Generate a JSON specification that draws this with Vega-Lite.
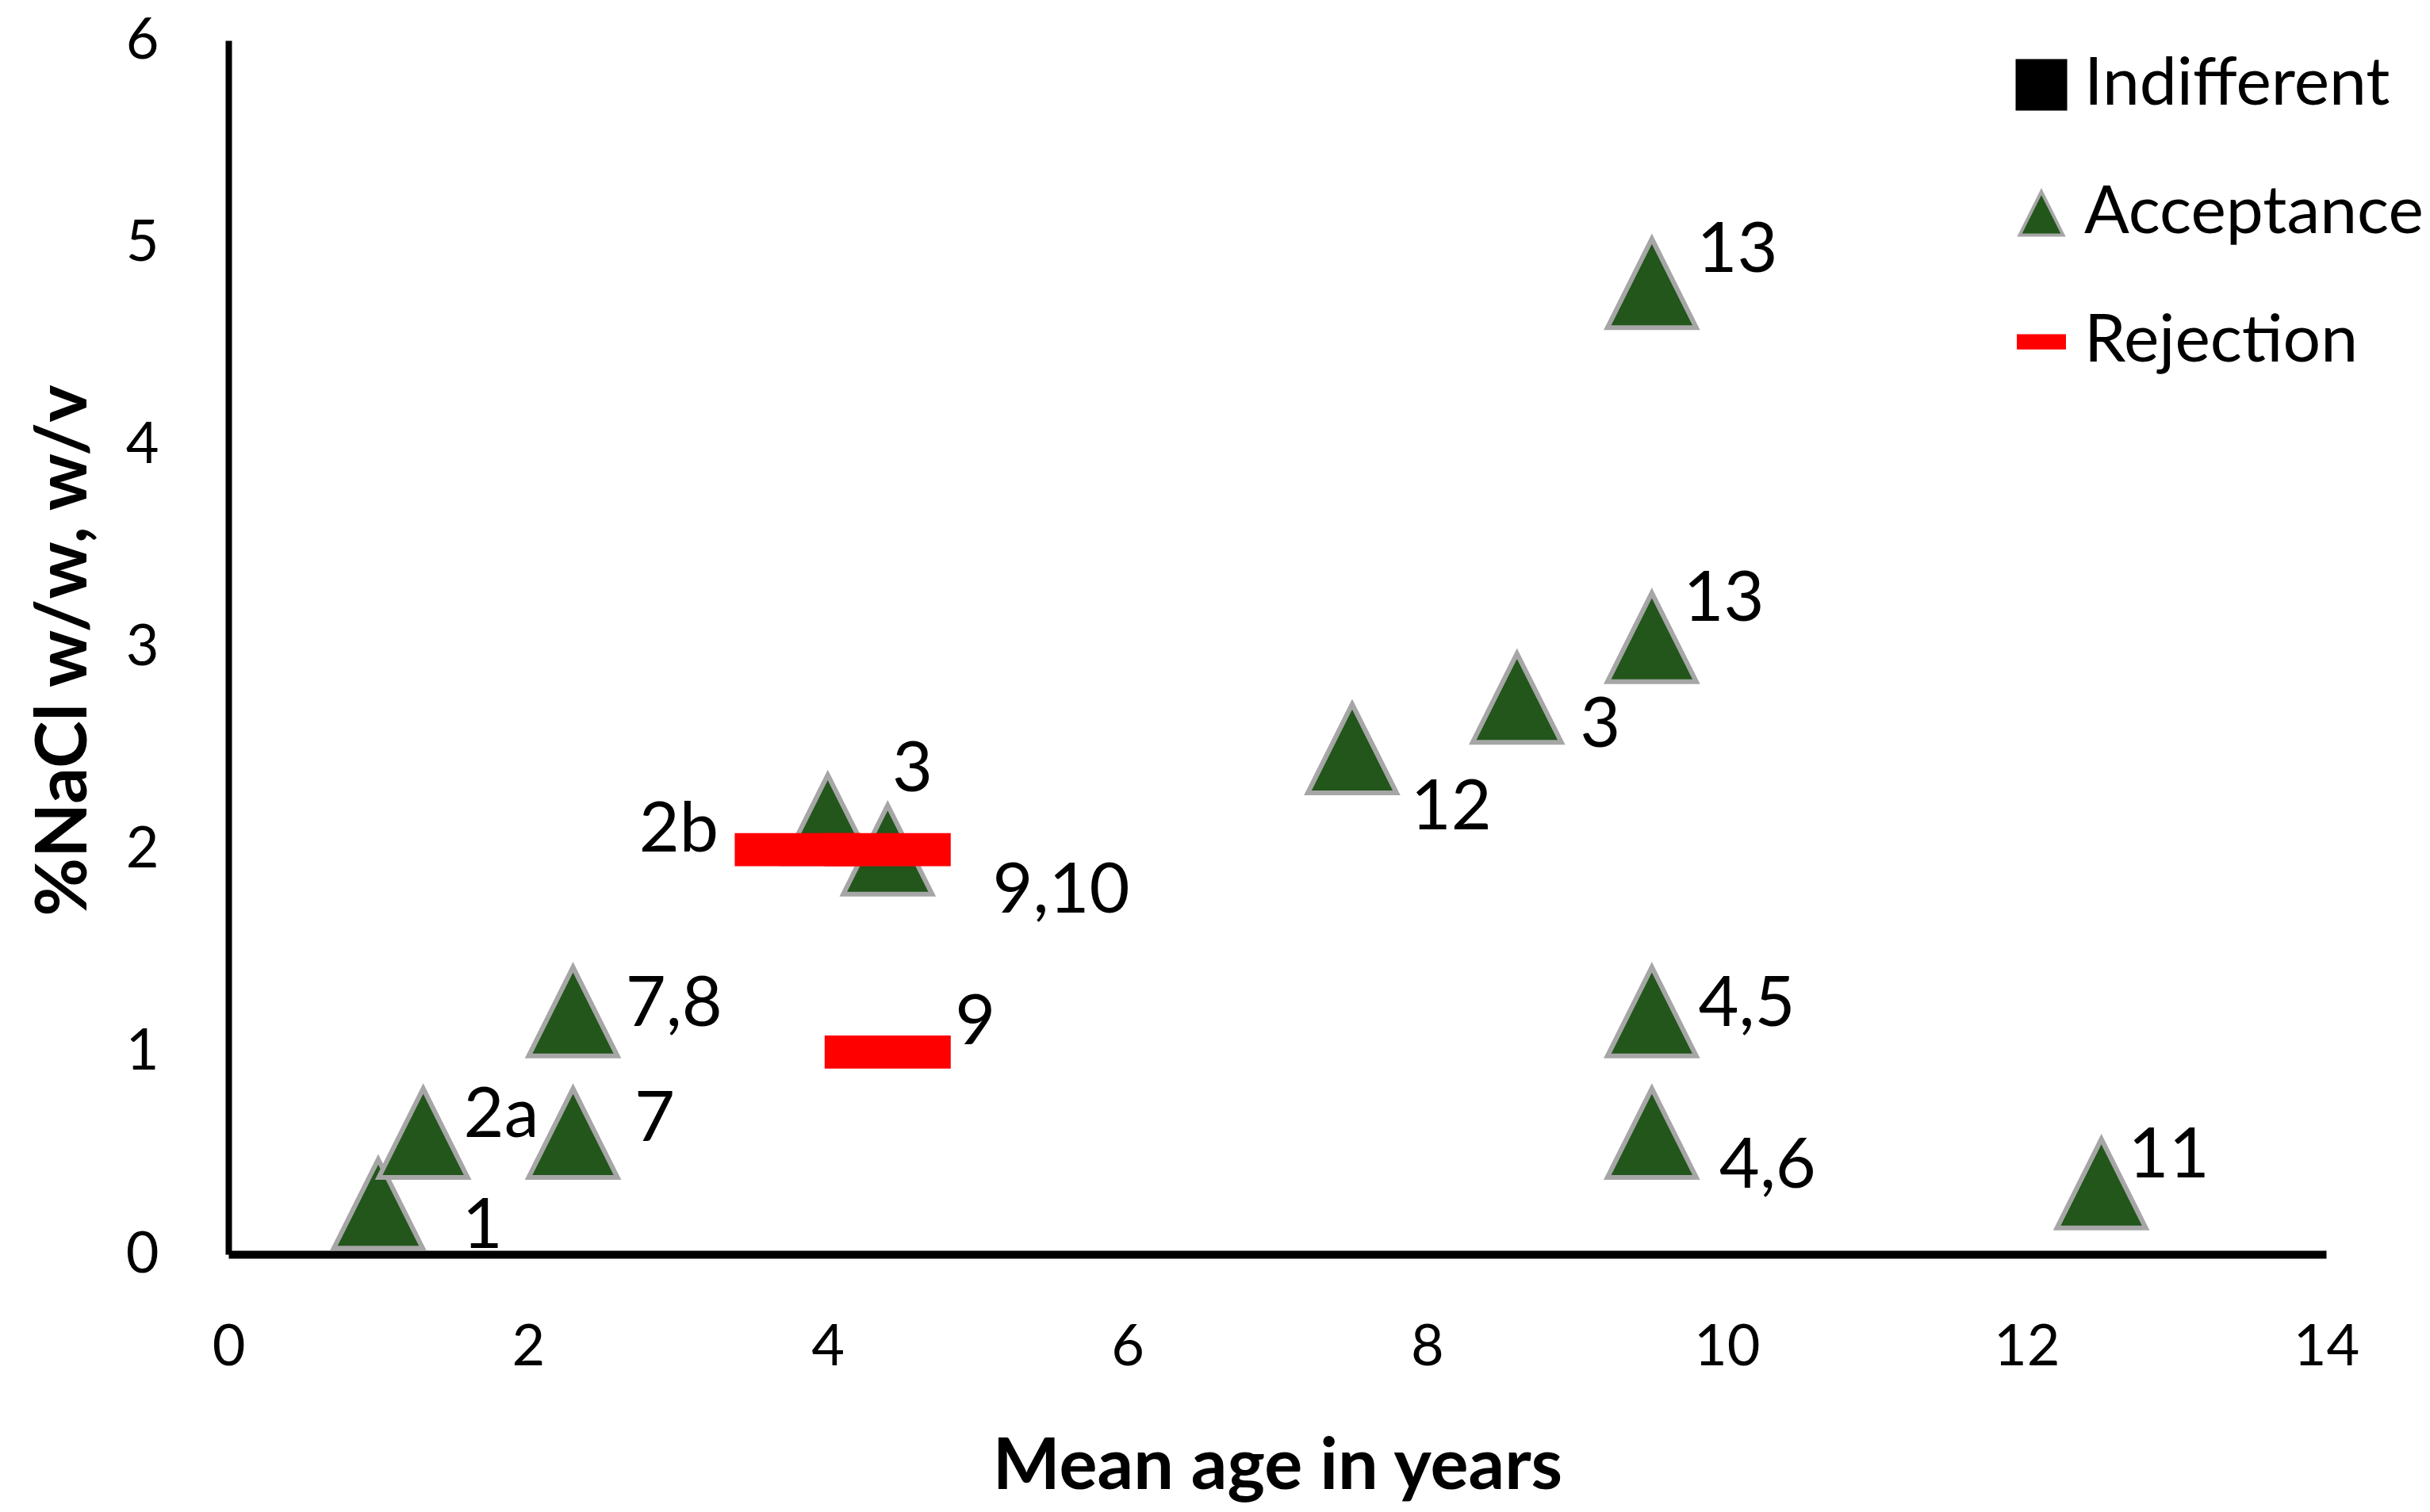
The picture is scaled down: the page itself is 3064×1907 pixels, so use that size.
{
  "$schema": "https://vega.github.io/schema/vega-lite/v6.json",
  "autosize": "none",
  "width": 2645,
  "height": 1531,
  "padding": {"left": 288, "top": 51, "right": 131, "bottom": 325},
  "background": "white",
  "config": {
    "view": {"stroke": null},
    "font": "Lato",
    "axis": {
      "grid": false,
      "ticks": false,
      "tickSize": 0,
      "format": "d",
      "labelFlush": false,
      "domainColor": "black",
      "labelColor": "black",
      "labelFont": "Lato",
      "labelFontSize": 72,
      "titleFont": "Lato",
      "titleFontSize": 90,
      "titleFontWeight": "bold",
      "titleColor": "black"
    }
  },
  "data": {
    "values": [
      {"age": 1.0, "nacl": 0.25, "response": "Acceptance", "label": "1", "lx": 1.56, "ly": 0.03},
      {"age": 1.3, "nacl": 0.6, "response": "Acceptance", "label": "2a", "lx": 1.57, "ly": 0.58},
      {"age": 2.3, "nacl": 0.6, "response": "Acceptance", "label": "7", "lx": 2.71, "ly": 0.56},
      {"age": 2.3, "nacl": 1.2, "response": "Acceptance", "label": "7,8", "lx": 2.65, "ly": 1.13},
      {"age": 4.0, "nacl": 2.15, "response": "Acceptance", "label": "3", "lx": 4.43, "ly": 2.29},
      {"age": 4.4, "nacl": 2.0, "response": "Acceptance", "label": "9,10", "lx": 5.1, "ly": 1.69},
      {"age": 7.5, "nacl": 2.5, "response": "Acceptance", "label": "12", "lx": 7.89, "ly": 2.1},
      {"age": 8.6, "nacl": 2.75, "response": "Acceptance", "label": "3", "lx": 9.02, "ly": 2.51},
      {"age": 9.5, "nacl": 3.05, "response": "Acceptance", "label": "13", "lx": 9.71, "ly": 3.13},
      {"age": 9.5, "nacl": 4.8, "response": "Acceptance", "label": "13", "lx": 9.8, "ly": 4.855},
      {"age": 9.5, "nacl": 1.2, "response": "Acceptance", "label": "4,5", "lx": 9.81, "ly": 1.13},
      {"age": 9.5, "nacl": 0.6, "response": "Acceptance", "label": "4,6", "lx": 9.95, "ly": 0.33},
      {"age": 12.5, "nacl": 0.35, "response": "Acceptance", "label": "11", "lx": 12.68, "ly": 0.38},
      {"age": 3.8, "nacl": 2.0, "response": "Rejection", "label": "2b", "lx": 2.74, "ly": 1.99},
      {"age": 4.4, "nacl": 2.0, "response": "Rejection", "label": null, "lx": null, "ly": null},
      {"age": 4.4, "nacl": 1.0, "response": "Rejection", "label": "9", "lx": 4.85, "ly": 1.04}
    ]
  },
  "layer": [
    {
      "transform": [{"filter": "datum.response === 'Acceptance'"}],
      "mark": {"type": "point", "filled": true, "opacity": 1, "size": 15480, "strokeWidth": 6},
      "encoding": {
        "x": {
          "field": "age",
          "type": "quantitative",
          "scale": {"domain": [0, 14], "nice": false},
          "axis": {
            "values": [0, 2, 4, 6, 8, 10, 12, 14],
            "domainWidth": 10,
            "labelBaseline": "alphabetic",
            "labelPadding": 139,
            "title": "Mean age in years",
            "titleBaseline": "alphabetic",
            "titleY": 295
          }
        },
        "y": {
          "field": "nacl",
          "type": "quantitative",
          "scale": {"domain": [0, 6], "nice": false},
          "axis": {
            "values": [0, 1, 2, 3, 4, 5, 6],
            "domainWidth": 8,
            "labelPadding": 88,
            "title": "%NaCl w/w, w/v",
            "titleAngle": 270,
            "titleBaseline": "alphabetic",
            "titleX": -180,
            "titleY": 769
          }
        },
        "fill": {
          "field": "response",
          "type": "nominal",
          "scale": {"domain": ["Indifferent", "Acceptance", "Rejection"], "range": ["#000000", "#22561B", "#FF0000"]},
          "legend": {
            "title": null,
            "orient": "none",
            "legendX": 2244,
            "legendY": 14,
            "padding": 0,
            "symbolSize": 3721,
            "symbolStrokeWidth": 4,
            "labelFont": "Lato",
            "labelFontSize": 84,
            "labelColor": "black",
            "labelLimit": 0,
            "labelOffset": 12,
            "rowPadding": 78
          }
        },
        "stroke": {
          "field": "response",
          "type": "nominal",
          "scale": {"domain": ["Indifferent", "Acceptance", "Rejection"], "range": ["#000000", "#A6A6A6", "#FF0000"]}
        },
        "shape": {
          "field": "response",
          "type": "nominal",
          "scale": {"domain": ["Indifferent", "Acceptance", "Rejection"], "range": ["square", "M0,-0.9L0.9,0.9L-0.9,0.9Z", "M-0.95,-0.25H0.95V0.25H-0.95Z"]}
        }
      }
    },
    {
      "transform": [{"filter": "datum.response === 'Rejection'"}],
      "mark": {"type": "point", "filled": true, "opacity": 1, "size": 28012, "strokeWidth": 0},
      "encoding": {
        "x": {"field": "age", "type": "quantitative"},
        "y": {"field": "nacl", "type": "quantitative"},
        "fill": {"field": "response", "type": "nominal"},
        "stroke": {"field": "response", "type": "nominal"},
        "shape": {"field": "response", "type": "nominal"}
      }
    },
    {
      "transform": [{"filter": "datum.label != null"}],
      "mark": {"type": "text", "align": "left", "baseline": "alphabetic", "font": "Lato", "fontSize": 88, "color": "black"},
      "encoding": {
        "x": {"field": "lx", "type": "quantitative"},
        "y": {"field": "ly", "type": "quantitative"},
        "text": {"field": "label", "type": "nominal"}
      }
    }
  ]
}
